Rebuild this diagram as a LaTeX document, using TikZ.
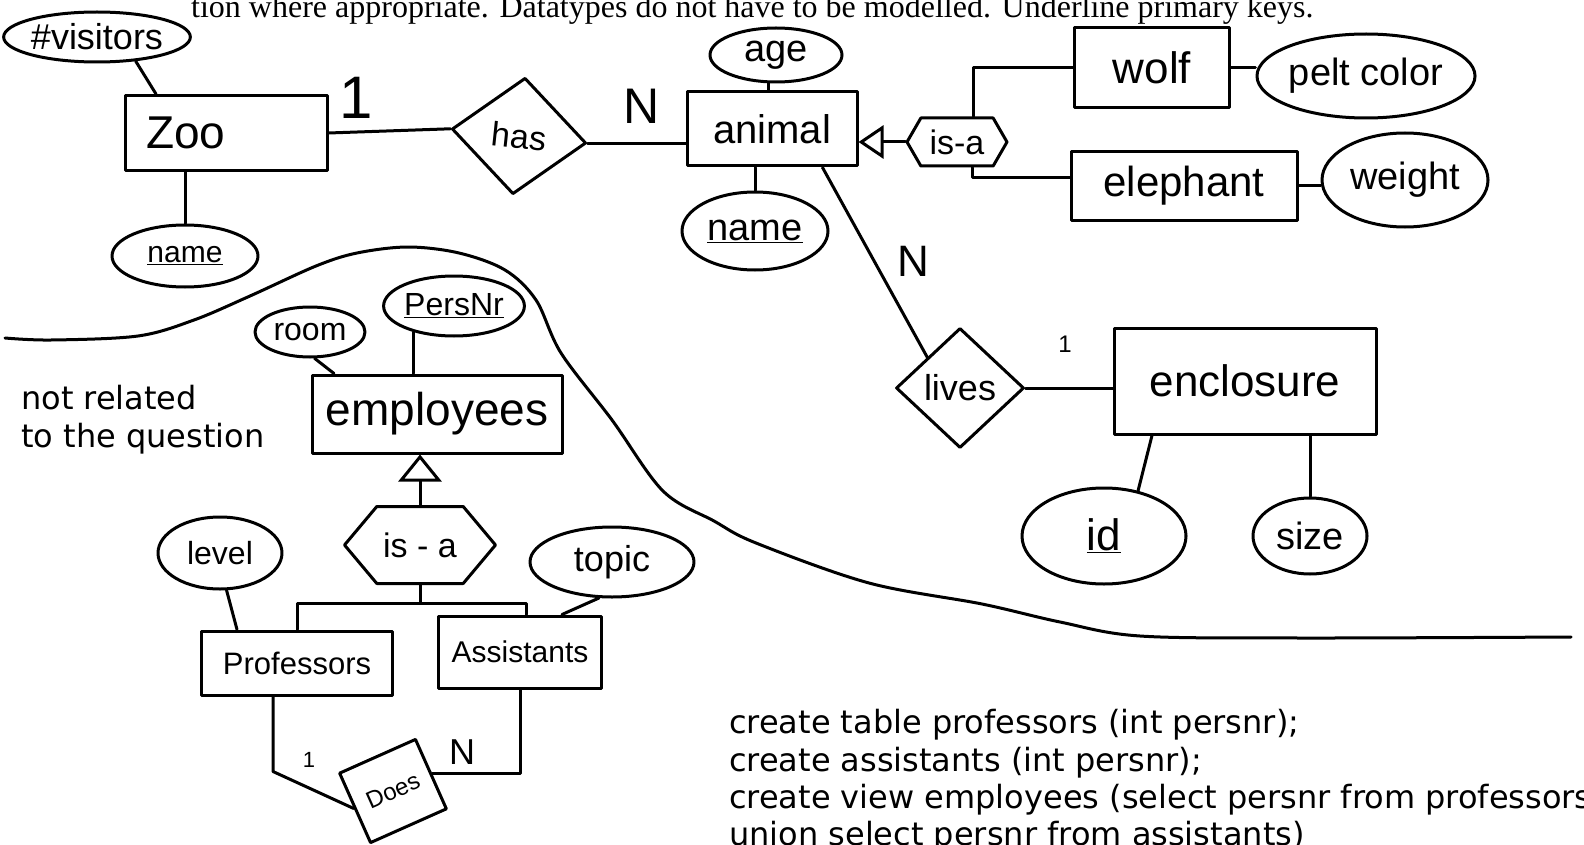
\documentclass[tikz,border=0pt]{standalone}
\usepackage{fontspec}
\setmainfont{DejaVu Sans}
\newfontfamily\tnr{Liberation Serif}
\newfontfamily\hand{Liberation Sans}
\usetikzlibrary{shapes.geometric,shapes.symbols,arrows.meta}
\begin{document}
\begin{tikzpicture}[x=1pt,y=-1pt,
  pen/.style={line width=3pt,line cap=round,line join=round},
  hw/.style={font=\hand\fontsize{#1}{#1}\selectfont},
  ent/.style={pen,draw,rectangle,inner sep=0pt},
  attr/.style={pen,draw,ellipse,inner sep=0pt},
  rel/.style={pen,draw,diamond,inner sep=0pt},
  isabox/.style={pen,draw,signal,signal to=west and east,inner sep=0pt},
  typed/.style={anchor=base west,inner sep=0pt,font=\fontsize{32}{38}\selectfont},
  card/.style={inner sep=0pt},
]
\useasboundingbox (0,0) rectangle (1584,845);

% task text (cut at the top)
\node[typed,font=\tnr\fontsize{32}{38}\selectfont] (task) at (191,18) {tion where appropriate. Datatypes do not have to be modelled. Underline primary keys.};

% ---------- zoo part ----------
\node[attr,minimum width=178,minimum height=50,hw=36] (vis) at (97,37) {\#visitors};
\node[ent,minimum width=202,minimum height=75,hw=46,text width=160,align=left,inner xsep=21] (zoo) at (226,133) {Zoo};
\node[attr,minimum width=146,minimum height=62,hw=30] (zname) at (185,256) {\underline{name}};
\node[rel,minimum width=135,minimum height=117,rotate=-6,hw=34] (has) at (519,136) {has};
\node[ent,minimum width=170,minimum height=74,hw=40] (animal) at (772,129) {animal};
\node[attr,minimum width=132,minimum height=54,hw=38] (age) at (776,55) {age};
\node[attr,minimum width=146,minimum height=78,hw=38] (aname) at (755,231) {\underline{name}};
\node[isabox,minimum width=100,minimum height=48,signal pointer angle=120,hw=34] (isa1) at (957,142) {is-a};
\node[ent,minimum width=155,minimum height=80,hw=44] (wolf) at (1152,68) {wolf};
\node[attr,minimum width=202,minimum height=84,hw=38] (pelt) at (1366,76) {pelt color};
\node[ent,minimum width=226,minimum height=68,hw=42] (eleph) at (1184,186) {elephant};
\node[attr,minimum width=166,minimum height=94,hw=38] (weight) at (1405,180) {weight};
\node[rel,minimum width=128,minimum height=120,hw=36] (lives) at (960,388) {lives};
\node[ent,minimum width=262,minimum height=106,hw=44] (encl) at (1245,381) {enclosure};
\node[attr,minimum width=164,minimum height=96,hw=44] (id) at (1104,536) {\underline{id}};
\node[attr,minimum width=114,minimum height=76,hw=38] (size) at (1310,536) {size};

\node[card,hw=60] (c1) at (356,98) {1};
\node[card,hw=50] (n1) at (642,106) {N};
\node[card,hw=44] (n2) at (913,261) {N};
\node[card,hw=24] (c2) at (1065,344) {1};

\draw[pen] (vis.-32) -- ([xshift=-70pt]zoo.north);
\draw[pen] (zname.north) -- (zname.north |- zoo.south);
\draw[pen] (zoo.east) -- (has.west);
\draw[pen] (has.east) -- (has.east -| animal.west);
\draw[pen] (age.255) -- (age.255 |- animal.north);
\draw[pen] (aname.north) -- (aname.north |- animal.south);
\draw[pen,-{Triangle[open,length=25pt,width=33pt]}] (isa1.west) -- (isa1.west -| animal.east);
\draw[pen] ([xshift=16pt]isa1.north) |- (wolf.west);
\draw[pen] ([xshift=15pt]isa1.south) |- ([yshift=8pt]eleph.west);
\draw[pen] (wolf.east) -- (wolf.east -| pelt.west);
\draw[pen] (eleph.east) -- (eleph.east -| weight.west);
\draw[pen] ([xshift=-36pt]animal.south east) -- (lives.north west);
\draw[pen] (lives.east) -- (lives.east -| encl.west);
\draw[pen] ([xshift=-93pt]encl.south) -- (id.53);
\draw[pen] (size.north) -- (size.north |- encl.south);

% ---------- employees part ----------
\node[attr,minimum width=110,minimum height=50,hw=32] (room) at (310,332) {room};
\node[attr,minimum width=132,minimum height=60,hw=32] (pers) at (454,306) {\underline{PersNr}};
\node[ent,minimum width=250,minimum height=78,hw=46] (emp) at (437,414) {employees};
\node[isabox,minimum width=151,minimum height=77,signal pointer angle=100,hw=34] (isa2) at (420,545) {is - a};
\node[attr,minimum width=124,minimum height=72,hw=32] (level) at (220,553) {level};
\node[attr,minimum width=164,minimum height=70,hw=36] (topic) at (612,562) {topic};
\node[ent,minimum width=191,minimum height=64,hw=31] (prof) at (297,663) {Professors};
\node[ent,minimum width=163,minimum height=72,hw=30] (asst) at (520,652) {Assistants};
\node[ent,minimum width=83,minimum height=76,rotate=24,hw=24] (does) at (393,791) {Does};
\node[card,hw=22] (c3) at (309,760) {1};
\node[card,hw=36] (n3) at (462,752) {N};
\coordinate (bar) at (420,603);

\draw[pen] (room.-80) -- ([xshift=-103pt]emp.north);
\draw[pen] (pers.213) -- (pers.213 |- emp.north);
\draw[pen,-{Triangle[open,length=27pt,width=43pt]}] (isa2.north) -- (isa2.north |- emp.south);
\draw[pen] (isa2.south) -- (bar);
\draw[pen] (prof.north) |- (bar) -| ([xshift=6pt]asst.north);
\draw[pen] (level.-80) -- ([xshift=-60pt]prof.north);
\draw[pen] (topic.250) -- ([xshift=42pt]asst.north);
\draw[pen] ([xshift=-24pt]prof.south) -- ++(0,75) -- (does.west);
\draw[pen] (asst.south) |- (does.east);

% ---------- separating curve ----------
\draw[pen] plot[smooth,tension=0.55] coordinates {(5,338) (51,340) (138,336) (194,320) (250,296) (316,266) (357,253) (408,247) (459,253) (505,270) (536,300) (561,353) (612,420) (663,491) (714,521) (756,543) (869,583) (982,604) (1060,622) (1140,636) (1300,638) (1571,637)};

% ---------- typed notes ----------
\node[typed] (nr1) at (21,409) {not related};
\node[typed] (nr2) at (21,447) {to the question};
\node[typed] (sql1) at (729,733) {create table professors (int persnr);};
\node[typed] (sql2) at (729,771) {create assistants (int persnr);};
\node[typed] (sql3) at (729,808) {create view employees (select persnr from professors};
\node[typed] (sql4) at (729,845.5) {union select persnr from assistants)};
\end{tikzpicture}
\end{document}
